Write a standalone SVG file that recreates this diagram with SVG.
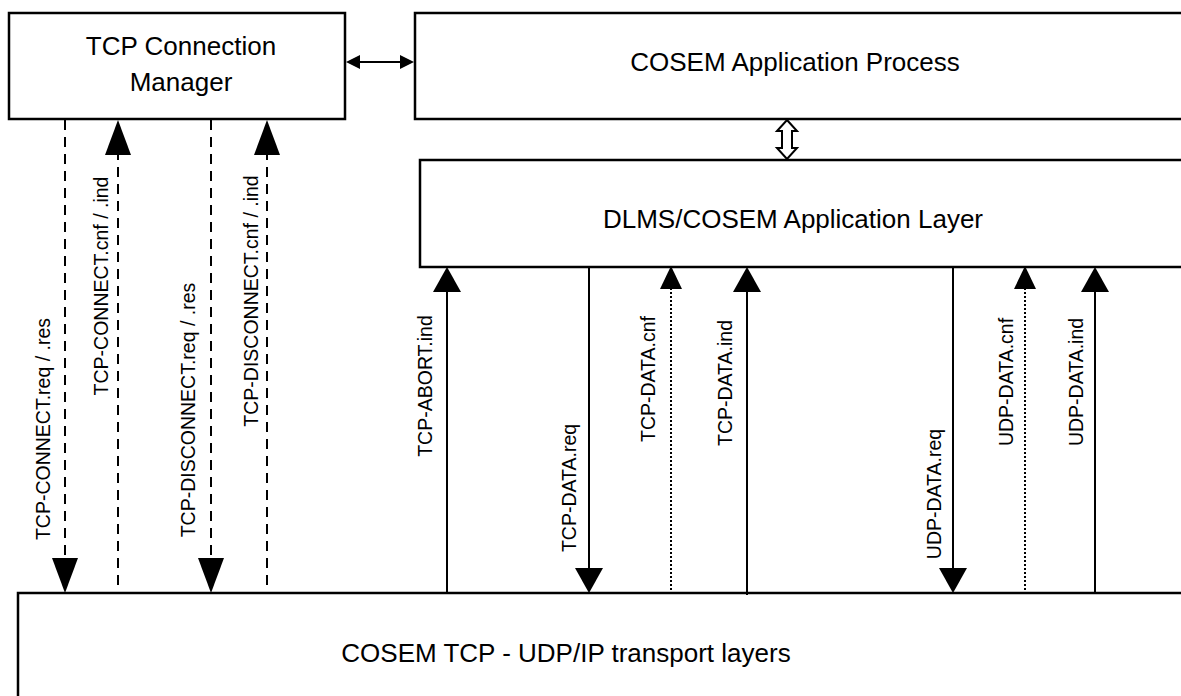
<svg xmlns="http://www.w3.org/2000/svg" width="1181" height="696" viewBox="0 0 1181 696">
<style>
.box{fill:#fff;stroke:#000;stroke-width:2.5}
.t{font-family:"Liberation Sans",Arial,sans-serif;font-size:26px;fill:#000;text-anchor:middle}
.l{font-family:"Liberation Sans",Arial,sans-serif;font-size:19.5px;fill:#000;text-anchor:middle}
.solid{stroke:#000;stroke-width:2;fill:none}
.dash{stroke:#000;stroke-width:2;fill:none;stroke-dasharray:10 7}
.dot{stroke:#000;stroke-width:2;fill:none;stroke-dasharray:2 2}
.head{fill:#000;stroke:none}
</style>
<rect width="1181" height="696" fill="#fff"/>
<g id="tcp-cm">
<rect class="box" x="9" y="13" width="336" height="106"/>
<text class="t" x="181" y="55">TCP Connection</text>
<text class="t" x="181" y="91">Manager</text>
</g>
<g id="cosem-ap">
<rect class="box" x="415" y="13" width="800" height="106"/>
<text class="t" x="795" y="71">COSEM Application Process</text>
</g>
<g id="dlms-al">
<rect class="box" x="420" y="160" width="800" height="107"/>
<text class="t" x="793" y="228">DLMS/COSEM Application Layer</text>
</g>
<g id="transport">
<rect class="box" x="18" y="593" width="1200" height="120"/>
<text class="t" x="566" y="662">COSEM TCP - UDP/IP transport layers</text>
</g>
<g id="connectors">
<line class="solid" x1="358" y1="62" x2="402" y2="62"/>
<polygon class="head" points="346,62 360,55 360,69"/>
<polygon class="head" points="414,62 400,55 400,69"/>
<polygon points="787,120 797,131 792,131 792,148 797,148 787,159 777,148 782,148 782,131 777,131" fill="#fff" stroke="#000" stroke-width="2"/>
<line class="dash" x1="65" y1="120" x2="65" y2="565"/>
<polygon class="head" points="65,593 52,558 78,558"/>
<line class="dash" x1="118" y1="150" x2="118" y2="593"/>
<polygon class="head" points="118,120 105,155 131,155"/>
<line class="dash" x1="211" y1="120" x2="211" y2="565"/>
<polygon class="head" points="211,593 198,558 224,558"/>
<line class="dash" x1="267" y1="150" x2="267" y2="593"/>
<polygon class="head" points="267,120 254,155 280,155"/>
<line class="solid" x1="447" y1="290" x2="447" y2="593"/>
<polygon class="head" points="447,267 433,292 461,292"/>
<line class="solid" x1="589" y1="267" x2="589" y2="570"/>
<polygon class="head" points="589,593 575,568 603,568"/>
<line class="dot" x1="671" y1="288" x2="671" y2="593"/>
<polygon class="head" points="671,266 660,289 682,289"/>
<line class="solid" x1="747" y1="290" x2="747" y2="595"/>
<polygon class="head" points="747,267 733,292 761,292"/>
<line class="solid" x1="953" y1="267" x2="953" y2="570"/>
<polygon class="head" points="953,593 939,568 967,568"/>
<line class="dot" x1="1025" y1="288" x2="1025" y2="593"/>
<polygon class="head" points="1025,266 1014,289 1036,289"/>
<line class="solid" x1="1095" y1="290" x2="1095" y2="593"/>
<polygon class="head" points="1095,267 1081,292 1109,292"/>
</g>
<g id="labels">
<text class="l" transform="translate(50,429) rotate(-90)">TCP-CONNECT.req / .res</text>
<text class="l" transform="translate(108,286) rotate(-90)">TCP-CONNECT.cnf / .ind</text>
<text class="l" transform="translate(195,410) rotate(-90)">TCP-DISCONNECT.req / .res</text>
<text class="l" transform="translate(258,301) rotate(-90)">TCP-DISCONNECT.cnf / .ind</text>
<text class="l" transform="translate(432,386) rotate(-90)">TCP-ABORT.ind</text>
<text class="l" transform="translate(576,488) rotate(-90)">TCP-DATA.req</text>
<text class="l" transform="translate(655,379) rotate(-90)">TCP-DATA.cnf</text>
<text class="l" transform="translate(732,383) rotate(-90)">TCP-DATA.ind</text>
<text class="l" transform="translate(941,494) rotate(-90)">UDP-DATA.req</text>
<text class="l" transform="translate(1013,382) rotate(-90)">UDP-DATA.cnf</text>
<text class="l" transform="translate(1083,382) rotate(-90)">UDP-DATA.ind</text>
</g>
</svg>
